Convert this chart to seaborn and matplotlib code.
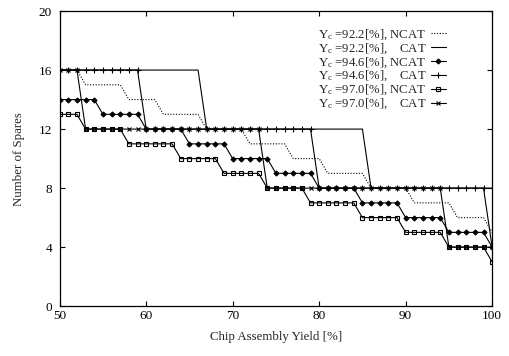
import matplotlib
matplotlib.use("Agg")
import matplotlib.pyplot as plt
import seaborn as sns
import pandas as pd

# chip assembly yield [%] on the x axis
yields = list(range(50, 101))

# number of spares per series (one value per yield point 50..100)
ncat_922 = [16, 16, 16, 15, 15, 15, 15, 15, 14, 14,
            14, 14, 13, 13, 13, 13, 13, 12, 12, 12,
            12, 12, 11, 11, 11, 11, 11, 10, 10, 10,
            10, 9, 9, 9, 9, 9, 8, 8, 8, 8,
            8, 7, 7, 7, 7, 7, 6, 6, 6, 6,
            5]
cat_922 = [16, 16, 16, 16, 16, 16, 16, 16, 16, 16,
           16, 16, 16, 16, 16, 16, 16, 12, 12, 12,
           12, 12, 12, 12, 12, 12, 12, 12, 12, 12,
           12, 12, 12, 12, 12, 12, 8, 8, 8, 8,
           8, 8, 8, 8, 8, 8, 8, 8, 8, 8,
           8]
ncat_946 = [14, 14, 14, 14, 14, 13, 13, 13, 13, 13,
            12, 12, 12, 12, 12, 11, 11, 11, 11, 11,
            10, 10, 10, 10, 10, 9, 9, 9, 9, 9,
            8, 8, 8, 8, 8, 7, 7, 7, 7, 7,
            6, 6, 6, 6, 6, 5, 5, 5, 5, 5,
            4]
cat_946 = [16, 16, 16, 16, 16, 16, 16, 16, 16, 16,
           12, 12, 12, 12, 12, 12, 12, 12, 12, 12,
           12, 12, 12, 12, 12, 12, 12, 12, 12, 12,
           8, 8, 8, 8, 8, 8, 8, 8, 8, 8,
           8, 8, 8, 8, 8, 8, 8, 8, 8, 8,
           4]
ncat_970 = [13, 13, 13, 12, 12, 12, 12, 12, 11, 11,
            11, 11, 11, 11, 10, 10, 10, 10, 10, 9,
            9, 9, 9, 9, 8, 8, 8, 8, 8, 7,
            7, 7, 7, 7, 7, 6, 6, 6, 6, 6,
            5, 5, 5, 5, 5, 4, 4, 4, 4, 4,
            3]
cat_970 = [16, 16, 16, 12, 12, 12, 12, 12, 12, 12,
           12, 12, 12, 12, 12, 12, 12, 12, 12, 12,
           12, 12, 12, 12, 8, 8, 8, 8, 8, 8,
           8, 8, 8, 8, 8, 8, 8, 8, 8, 8,
           8, 8, 8, 8, 8, 4, 4, 4, 4, 4,
           4]

labels = ["Y$_\\mathrm{c}$ =92.2[%], NCAT",
          "Y$_\\mathrm{c}$ =92.2[%],    CAT",
          "Y$_\\mathrm{c}$ =94.6[%], NCAT",
          "Y$_\\mathrm{c}$ =94.6[%],    CAT",
          "Y$_\\mathrm{c}$ =97.0[%], NCAT",
          "Y$_\\mathrm{c}$ =97.0[%],    CAT"]

sns.set_style("ticks")
plt.rcParams['font.family'] = ['Liberation Serif', 'DejaVu Serif']
plt.rcParams['mathtext.fontset'] = 'custom'
plt.rcParams['mathtext.rm'] = 'Liberation Serif'
plt.rcParams['mathtext.it'] = 'Liberation Serif:italic'

fig = plt.figure(figsize=(5.1, 3.56), dpi=100)
ax = fig.add_axes([0.117, 0.140, 0.848, 0.829])

series = [ncat_922, cat_922, ncat_946, cat_946, ncat_970, cat_970]
styles = [dict(ls=(0, (1, 1.5)), marker=None),
          dict(ls='-', marker=None),
          dict(ls='-', marker='D', ms=2.6, mfc='black'),
          dict(ls='-', marker='+', ms=5, mew=0.8),
          dict(ls='-', marker='s', ms=3.5, mfc='none', mew=0.8),
          dict(ls='-', marker='x', ms=3.5, mew=0.8)]

for vals, lab, st in zip(series, labels, styles):
    df = pd.DataFrame({'yield': yields, 'spares': vals})
    sns.lineplot(data=df, x='yield', y='spares', ax=ax, color='black',
                 lw=0.8, label=lab, mec='black', **st)

ax.set_xlim(50, 100)
ax.set_ylim(0, 20)
ax.set_xticks([50, 60, 70, 80, 90, 100])
ax.set_yticks([0, 4, 8, 12, 16, 20])
ax.tick_params(direction='in', top=True, right=True, length=3.5, width=0.8,
               labelsize=9.5, colors='black')
ax.tick_params(axis='x', pad=3)
ax.tick_params(axis='y', pad=5.5)
for s in ax.spines.values():
    s.set_visible(True)
    s.set_linewidth(0.9)
    s.set_color('black')

ax.set_xlabel("Chip Assembly Yield [%]", fontsize=9.3, labelpad=6)
ax.set_ylabel("Number of Spares", fontsize=9.3, labelpad=10)

ax.legend(loc='upper right', bbox_to_anchor=(0.893, 0.945), frameon=False,
          markerfirst=False, fontsize=9.2, handlelength=1.2, handletextpad=0.3,
          labelspacing=-0.05, borderpad=0, borderaxespad=0)

fig.savefig("out.png", dpi=100)
